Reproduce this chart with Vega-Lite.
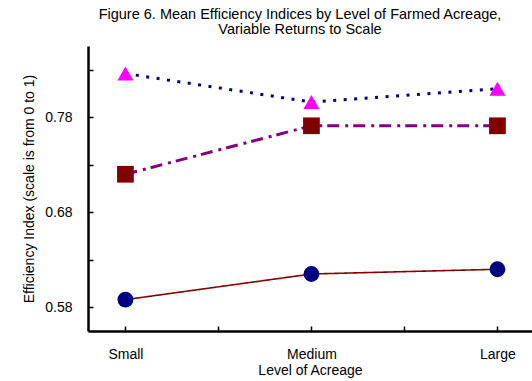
{
  "$schema": "https://vega.github.io/schema/vega-lite/v6.json",
  "width": 444,
  "height": 285,
  "autosize": "none",
  "padding": {"left": 88, "top": 46, "right": 0, "bottom": 50},
  "background": "white",
  "title": {
    "text": ["Figure 6.  Mean Efficiency Indices by Level of Farmed Acreage,", "Variable Returns to Scale"],
    "font": "Liberation Sans",
    "fontSize": 14.5,
    "fontWeight": "normal",
    "lineHeight": 15,
    "color": "black",
    "anchor": "middle",
    "dx": -10,
    "offset": 9
  },
  "config": {
    "view": {"stroke": null},
    "axis": {
      "grid": false,
      "domainColor": "black",
      "domainWidth": 2.5,
      "tickColor": "black",
      "tickWidth": 1.5,
      "tickSize": -5,
      "labelFont": "Liberation Sans",
      "labelFontSize": 14,
      "labelColor": "black",
      "titleFont": "Liberation Sans",
      "titleFontSize": 14,
      "titleFontWeight": "normal",
      "titleColor": "black"
    }
  },
  "data": {
    "values": [
      {"level": "Small", "series": "Technical Efficiency", "index": 0.826},
      {"level": "Medium", "series": "Technical Efficiency", "index": 0.796},
      {"level": "Large", "series": "Technical Efficiency", "index": 0.810},
      {"level": "Small", "series": "Allocative Efficiency", "index": 0.720},
      {"level": "Medium", "series": "Allocative Efficiency", "index": 0.771},
      {"level": "Large", "series": "Allocative Efficiency", "index": 0.771},
      {"level": "Small", "series": "Economic Efficiency", "index": 0.588},
      {"level": "Medium", "series": "Economic Efficiency", "index": 0.615},
      {"level": "Large", "series": "Economic Efficiency", "index": 0.620}
    ]
  },
  "encoding": {
    "x": {
      "field": "level",
      "type": "ordinal",
      "scale": {"type": "point", "domain": ["Small", "_a", "Medium", "_b", "Large"], "padding": 0.387, "align": 0.52},
      "axis": {
        "title": "Level of Acreage",
        "labelAngle": 0,
        "labelExpr": "datum.label == '_a' || datum.label == '_b' ? '' : datum.label",
        "labelPadding": 21,
        "titlePadding": 2
      }
    },
    "y": {
      "field": "index",
      "type": "quantitative",
      "scale": {"domain": [0.555, 0.855], "nice": false, "zero": false},
      "axis": {
        "title": "Efficiency Index (scale is from 0 to 1)",
        "values": [0.58, 0.63, 0.68, 0.73, 0.78, 0.83],
        "format": ".2f",
        "labelExpr": "datum.label == '0.58' || datum.label == '0.68' || datum.label == '0.78' ? datum.label : ''",
        "labelPadding": 21,
        "titlePadding": 8
      }
    }
  },
  "layer": [
    {
      "mark": {"type": "line", "strokeCap": "butt"},
      "encoding": {
        "detail": {"field": "series"},
        "stroke": {
          "field": "series",
          "scale": {"domain": ["Technical Efficiency", "Allocative Efficiency", "Economic Efficiency"], "range": ["#000080", "#800080", "#800000"]},
          "legend": null
        },
        "strokeDash": {
          "field": "series",
          "scale": {"domain": ["Technical Efficiency", "Allocative Efficiency", "Economic Efficiency"], "range": [[3, 7.5], [12, 6, 3, 5], [1, 0]]},
          "legend": null
        },
        "strokeWidth": {
          "field": "series",
          "type": "nominal",
          "scale": {"type": "ordinal", "domain": ["Technical Efficiency", "Allocative Efficiency", "Economic Efficiency"], "range": [3, 3, 1.6]},
          "legend": null
        }
      }
    },
    {
      "mark": {"type": "point", "filled": true, "opacity": 1, "strokeWidth": 0},
      "encoding": {
        "fill": {
          "field": "series",
          "scale": {"domain": ["Technical Efficiency", "Allocative Efficiency", "Economic Efficiency"], "range": ["#ff00ff", "#800000", "#000080"]},
          "legend": null
        },
        "shape": {
          "field": "series",
          "scale": {"domain": ["Technical Efficiency", "Allocative Efficiency", "Economic Efficiency"], "range": ["triangle-up", "square", "circle"]},
          "legend": null
        },
        "size": {
          "field": "series",
          "type": "nominal",
          "scale": {"type": "ordinal", "domain": ["Technical Efficiency", "Allocative Efficiency", "Economic Efficiency"], "range": [256, 280, 250]},
          "legend": null
        }
      }
    }
  ]
}
